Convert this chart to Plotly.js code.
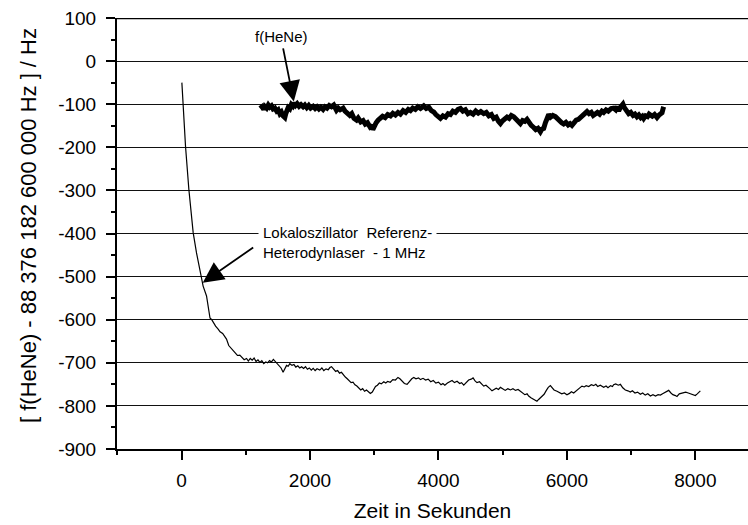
<!DOCTYPE html>
<html>
<head>
<meta charset="utf-8">
<script src="https://cdn.plot.ly/plotly-3.0.1.min.js"></script>
<style>html,body{margin:0;padding:0;background:#fff}#chart{width:748px;height:525px}</style>
</head>
<body>
<div id="chart"></div>
<script>
// Lokaloszillator Referenz-Heterodynlaser - 1 MHz (thin line)
const loTime = [5, 25, 62, 114, 181, 233, 300, 336, 389, 420, 443, 470, 493, 530, 570, 600, 640, 670, 700, 735, 770, 803, 840, 870, 907, 940, 975, 1012, 1040, 1070, 1100, 1130, 1160, 1190, 1220, 1250, 1280, 1310, 1340, 1370, 1400, 1430, 1460, 1490, 1520, 1550, 1581, 1610, 1635, 1660, 1686, 1720, 1750, 1780, 1810, 1840, 1870, 1900, 1930, 1960, 1990, 2020, 2050, 2080, 2110, 2152, 2185, 2215, 2250, 2285, 2310, 2335, 2370, 2400, 2430, 2460, 2490, 2520, 2550, 2580, 2610, 2640, 2670, 2700, 2730, 2760, 2790, 2820, 2850, 2880, 2910, 2940, 2970, 2993, 3020, 3050, 3080, 3110, 3149, 3180, 3210, 3250, 3290, 3330, 3370, 3400, 3430, 3470, 3512, 3550, 3585, 3616, 3650, 3690, 3720, 3760, 3800, 3840, 3880, 3920, 3960, 4000, 4040, 4070, 4100, 4140, 4180, 4212, 4250, 4290, 4330, 4360, 4394, 4430, 4470, 4510, 4539, 4570, 4600, 4640, 4680, 4705, 4740, 4770, 4800, 4834, 4870, 4900, 4935, 4965, 5000, 5040, 5080, 5121, 5160, 5200, 5240, 5276, 5310, 5345, 5380, 5405, 5440, 5470, 5500, 5534, 5560, 5590, 5620, 5645, 5680, 5710, 5743, 5770, 5800, 5846, 5880, 5920, 5960, 6001, 6040, 6070, 6106, 6140, 6180, 6210, 6235, 6270, 6300, 6340, 6380, 6417, 6450, 6480, 6520, 6550, 6573, 6610, 6640, 6680, 6710, 6728, 6760, 6800, 6833, 6870, 6910, 6950, 6988, 7020, 7060, 7100, 7144, 7180, 7220, 7260, 7300, 7340, 7380, 7420, 7456, 7490, 7530, 7560, 7585, 7620, 7650, 7690, 7714, 7750, 7790, 7818, 7850, 7890, 7930, 7974, 8000, 8030, 8055, 8078];
const loValue = [-50, -105, -198, -298, -398, -445, -500, -522, -545, -572, -596, -600, -607, -615, -622, -628, -632, -640, -645, -660, -666, -673, -677, -683, -682, -688, -693, -690, -696, -690, -694, -689, -697, -693, -699, -695, -702, -698, -700, -695, -698, -692, -697, -700, -706, -712, -722, -712, -706, -708, -702, -706, -704, -710, -707, -712, -709, -713, -709, -715, -712, -717, -713, -718, -714, -717, -712, -718, -714, -716, -711, -709, -716, -720, -718, -724, -722, -728, -733, -737, -741, -746, -745, -751, -754, -758, -763, -760, -766, -763, -768, -771, -768, -760, -755, -752, -747, -749, -744, -747, -743, -745, -739, -740, -734, -737, -741, -748, -750, -742, -737, -734, -737, -735, -739, -736, -740, -738, -744, -741, -747, -745, -751, -748, -752, -747, -744, -741, -746, -743, -748, -746, -752, -745, -740, -738, -735, -742, -746, -744, -750, -754, -752, -757, -760, -765, -761, -759, -762, -757, -760, -764, -760, -763, -760, -764, -762, -766, -770, -774, -772, -777, -781, -784, -787, -789, -785, -781, -777, -773, -764, -757, -753, -759, -763, -766, -769, -772, -770, -774, -771, -767, -770, -765, -760, -757, -754, -756, -753, -755, -751, -753, -750, -755, -752, -756, -757, -754, -758, -753, -755, -751, -749, -752, -750, -758, -763, -765, -768, -765, -770, -768, -773, -770, -775, -772, -777, -774, -777, -774, -775, -772, -769, -766, -764, -770, -774, -776, -778, -772, -770, -769, -768, -770, -772, -773, -776, -772, -768, -765];

// f(HeNe) (thick line)
const heTime = [1223, 1255, 1280, 1297, 1325, 1350, 1374, 1400, 1425, 1452, 1480, 1505, 1530, 1555, 1580, 1608, 1625, 1640, 1660, 1685, 1710, 1730, 1748, 1775, 1800, 1830, 1860, 1893, 1920, 1950, 1980, 2010, 2049, 2080, 2110, 2140, 2170, 2204, 2235, 2265, 2300, 2335, 2370, 2412, 2440, 2470, 2516, 2545, 2580, 2620, 2650, 2685, 2724, 2750, 2790, 2827, 2860, 2895, 2931, 2955, 2978, 3000, 3030, 3060, 3097, 3130, 3170, 3210, 3253, 3290, 3330, 3370, 3408, 3450, 3490, 3530, 3564, 3600, 3640, 3680, 3720, 3771, 3810, 3850, 3890, 3927, 3960, 3995, 4031, 4070, 4110, 4150, 4187, 4225, 4265, 4305, 4343, 4380, 4420, 4460, 4498, 4540, 4580, 4620, 4660, 4705, 4745, 4785, 4825, 4861, 4900, 4935, 4965, 4995, 5030, 5068, 5100, 5135, 5172, 5205, 5240, 5276, 5310, 5345, 5379, 5410, 5445, 5483, 5515, 5550, 5587, 5610, 5639, 5665, 5690, 5717, 5745, 5780, 5821, 5855, 5890, 5920, 5950, 5985, 6020, 6050, 6079, 6110, 6145, 6180, 6210, 6245, 6280, 6313, 6345, 6380, 6410, 6443, 6475, 6510, 6545, 6573, 6610, 6645, 6690, 6728, 6760, 6785, 6806, 6830, 6850, 6873, 6895, 6920, 6940, 6962, 6995, 7030, 7060, 7091, 7120, 7150, 7175, 7196, 7225, 7255, 7280, 7300, 7330, 7365, 7403, 7430, 7460, 7481, 7495, 7507];
const heValue = [-110, -106, -112, -105, -109, -102, -107, -104, -111, -109, -116, -113, -122, -118, -127, -131, -121, -113, -108, -111, -101, -104, -97, -103, -99, -105, -101, -106, -102, -108, -103, -109, -105, -110, -106, -111, -107, -112, -106, -109, -103, -106, -102, -114, -109, -113, -109, -116, -121, -126, -122, -133, -137, -132, -141, -138, -146, -143, -152, -148, -159, -150, -143, -137, -133, -128, -131, -124, -127, -121, -125, -119, -123, -115, -119, -112, -115, -109, -112, -106, -110, -104, -110, -107, -115, -118, -124, -129, -133, -127, -130, -122, -124, -116, -119, -112, -110, -116, -113, -122, -119, -123, -116, -121, -117, -122, -119, -127, -124, -133, -130, -140, -145, -139, -134, -130, -133, -126, -129, -135, -142, -145, -138, -140, -135, -143, -149, -154, -159, -156, -164, -158, -156, -143, -131, -124, -130, -126, -129, -135, -140, -143, -146, -142, -148, -145, -149, -143, -137, -135, -131, -126, -120, -117, -122, -119, -126, -122, -119, -123, -116, -119, -113, -116, -110, -109, -113, -106, -116, -108, -104, -100, -108, -114, -118, -122, -119, -126, -123, -129, -125, -131, -128, -133, -127, -129, -123, -125, -128, -124, -131, -126, -124, -120, -112, -106];

const xTickVals = [0, 2000, 4000, 6000, 8000];
const yTickVals = [100, 0, -100, -200, -300, -400, -500, -600, -700, -800, -900];

const FONT = 'Liberation Sans, Arial, sans-serif';

const traces = [
  {x: loTime, y: loValue, type: 'scatter', mode: 'lines',
   line: {color: '#000', width: 1.2}, hoverinfo: 'skip'},
  {x: heTime, y: heValue, type: 'scatter', mode: 'lines',
   line: {color: '#000', width: 5, shape: 'linear'}, hoverinfo: 'skip'}
];

const layout = {
  width: 748, height: 525,
  margin: {l: 117, r: 0, t: 18, b: 76, pad: 0},
  paper_bgcolor: '#fff', plot_bgcolor: '#fff',
  showlegend: false,
  font: {family: FONT, color: '#000'},
  xaxis: {
    range: [-1005, 8820], tickvals: xTickVals, ticktext: xTickVals.map(String),
    showgrid: false, zeroline: false,
    showline: true, linecolor: '#000', linewidth: 2,
    ticks: 'outside', ticklen: 9, tickwidth: 2, tickcolor: '#000',
    minor: {dtick: 1000, tick0: 0, ticks: 'outside', ticklen: 4, tickwidth: 2, tickcolor: '#000'},
    tickfont: {size: 19, family: FONT},
    ticklabelstandoff: 4,
    title: {text: 'Zeit in Sekunden', font: {size: 21, family: FONT}, standoff: 14}
  },
  yaxis: {
    range: [-900, 100], tickvals: yTickVals, ticktext: yTickVals.map(String),
    showgrid: true, gridcolor: '#111', gridwidth: 1,
    zeroline: false,
    showline: true, linecolor: '#000', linewidth: 2,
    ticks: 'outside', ticklen: 9, tickwidth: 2, tickcolor: '#000',
    minor: {dtick: 50, tick0: 0, ticks: 'outside', ticklen: 4, tickwidth: 2, tickcolor: '#000', showgrid: false},
    tickfont: {size: 19, family: FONT},
    ticklabelstandoff: 6
  },
  shapes: [
    {type: 'line', xref: 'paper', yref: 'y', x0: 0, x1: 1, y0: 100, y1: 100,
     line: {color: '#000', width: 2.5}}
  ],
  annotations: [
    {xref: 'paper', yref: 'paper', x: -(117 - 28) / 631, y: 0.5 + (233.5 - 226) / 431,
     text: '[ f(HeNe) - 88 376 182 600 000 Hz ] / Hz', textangle: -90, showarrow: false,
     xanchor: 'center', yanchor: 'middle', font: {size: 22, family: FONT}},
    {xref: 'x', yref: 'y', x: 1561, y: 56, text: 'f(HeNe)', showarrow: false,
     xanchor: 'center', yanchor: 'middle', font: {size: 15, family: FONT}},
    {xref: 'x', yref: 'y', x: 1188, y: -420,
     text: 'Lokaloszillator  Referenz-<br>Heterodynlaser  - 1 MHz',
     showarrow: false, align: 'left', xanchor: 'left', yanchor: 'middle',
     bgcolor: '#fff', borderpad: 4, font: {size: 15, family: FONT}},
    {xref: 'x', yref: 'y', x: 1748, y: -94, axref: 'x', ayref: 'y', ax: 1577, ay: 33,
     text: '', showarrow: true, arrowhead: 2, arrowsize: 2.3, arrowwidth: 1.8, arrowcolor: '#000'},
    {xref: 'x', yref: 'y', x: 330, y: -514, axref: 'x', ayref: 'y', ax: 1139, ay: -430,
     text: '', showarrow: true, arrowhead: 2, arrowsize: 2.3, arrowwidth: 1.8, arrowcolor: '#000'}
  ]
};

Plotly.newPlot('chart', traces, layout, {staticPlot: true, displayModeBar: false});
</script>
</body>
</html>
